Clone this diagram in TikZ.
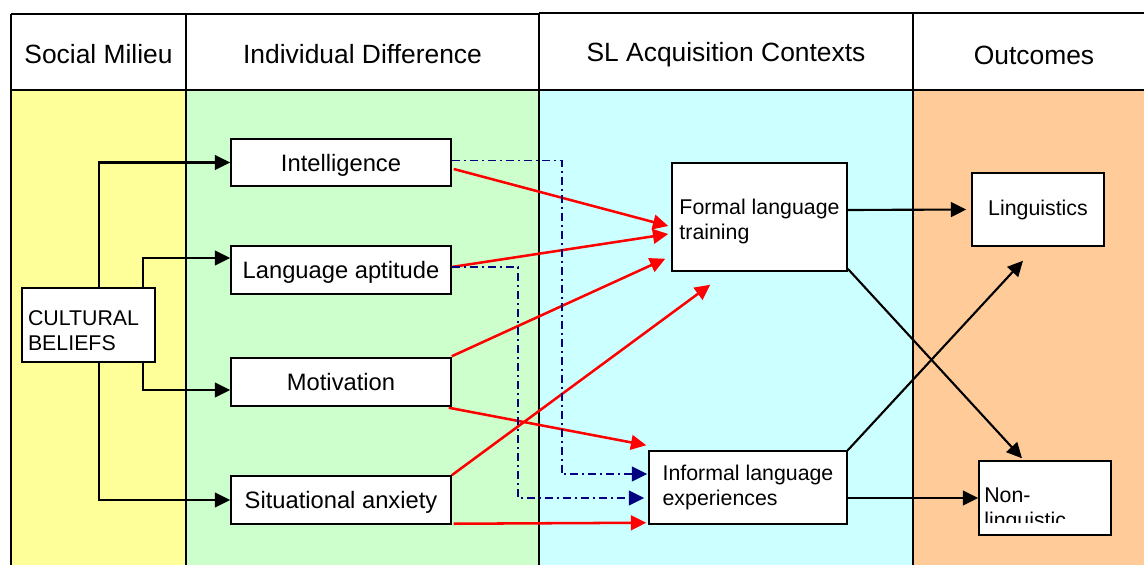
\documentclass[tikz,border=0pt]{standalone}
\usepackage{fontspec}
\setmainfont{Liberation Sans}
\usetikzlibrary{arrows.meta,calc}

\definecolor{milieu}{HTML}{FFFF99}
\definecolor{indiv}{HTML}{CCFFCC}
\definecolor{context}{HTML}{CCFFFF}
\definecolor{outcome}{HTML}{FFCC99}
\definecolor{flowred}{HTML}{FF0000}
\definecolor{flownavy}{HTML}{000080}

\tikzset{
  rule/.style={draw=black, line width=1.2pt},
  headtext/.style={font=\fontsize{19.8pt}{24pt}\selectfont},
  bigbox/.style={draw=black, fill=white, line width=1.1pt, inner sep=0pt,
    text height=12.75pt, text depth=0pt,
    font=\fontsize{17.8pt}{21pt}\selectfont},
  smallbox/.style={draw=black, fill=white, line width=1.1pt, inner sep=0pt,
    font=\fontsize{16pt}{18.75pt}\selectfont},
  tip/.style={-{Triangle[length=11.5pt,width=11pt]}},
  blackflow/.style={tip, draw=black, line width=1.6pt},
  redflow/.style={tip, draw=flowred, line width=1.9pt},
  navyflow/.style={tip, draw=flownavy, line width=1.2pt,
    dash pattern=on 6pt off 3pt on 1.5pt off 3pt},
}

\begin{document}
\begin{tikzpicture}[x=0.75pt,y=-0.75pt]
\useasboundingbox (0,0) rectangle (1144,564);
\clip (0,0) rectangle (1144,564);
\fill[white] (0,0) rectangle (1144,564);

% column bodies
\fill[milieu]  (11,90)  rectangle (186,570);
\fill[indiv]   (186,90) rectangle (539,570);
\fill[context] (539,90) rectangle (913,570);
\fill[outcome] (913,90) rectangle (1160,570);

% header row and column rules
\draw[rule] (11,14) -- (539,14);
\draw[rule] (539,13) -- (1160,13);
\draw[rule] (11,90) -- (1160,90);
\draw[rule] (11,14) -- (11,570);
\draw[rule] (186,14) -- (186,570);
\draw[rule] (539,13) -- (539,570);
\draw[rule] (913,13) -- (913,570);

\node[headtext] (h1) at (98.5,54) {Social Milieu};
\node[headtext] (h2) at (362.5,54) {Individual Difference};
\node[headtext] (h3) at (726,55) {SL Acquisition Contexts};
\node[headtext] (h4) at (1034,55) {Outcomes};

% individual difference boxes
\node[bigbox, minimum width=165pt, minimum height=35.25pt] (int) at (341,162.5) {Intelligence};
\node[bigbox, minimum width=165pt, minimum height=36pt] (apt) at (341,270) {Language aptitude};
\node[bigbox, minimum width=165pt, minimum height=36pt] (mot) at (341,382) {Motivation};
\node[bigbox, minimum width=165pt, minimum height=36pt] (anx) at (341,500) {Situational anxiety};

% social milieu
\node[smallbox, minimum width=99.75pt, minimum height=55.5pt, text width=90.75pt,
      text height=19pt, align=left, inner xsep=4.5pt] (cult) at (88.5,325) {CULTURAL\\BELIEFS};

% acquisition contexts
\node[smallbox, minimum width=131.25pt, minimum height=81pt, text height=37pt,
      align=left] (formal) at (759.5,217) {Formal language\\training};
\node[smallbox, minimum width=148.5pt, minimum height=54.75pt,
      align=left] (informal) at (748,487.5) {Informal language\\experiences};

% outcomes
\node[smallbox, minimum width=99pt, minimum height=54.75pt] (ling) at (1038,209.5) {Linguistics};
\node[smallbox, minimum width=99pt, minimum height=55.5pt] (nonling) at (1045,498) {};
\begin{scope}
  \clip (979,461) rectangle (1111,522);
  \node[anchor=north west, inner sep=0pt, align=left,
        font=\fontsize{16pt}{18.75pt}\selectfont] (nonlingtext) at (984,488) {Non-\\linguistic};
\end{scope}

% social milieu to individual differences
\draw[blackflow] ([xshift=7.875pt]cult.north) |- (int.west);
\draw[blackflow] ([xshift=40.875pt]cult.north) |- ([yshift=9pt]apt.west);
\draw[blackflow] ([xshift=40.875pt]cult.south) |- ([yshift=-6pt]mot.west);
\draw[blackflow] ([xshift=7.875pt]cult.south) |- (anx.west);

% individual differences to acquisition contexts
\draw[redflow] ($(int.east)+(2,6.5)$) -- ($(formal.west)+(-3,9)$);
\draw[redflow] ($(apt.east)+(0,-3)$) -- ($(formal.west)+(-3,17)$);
\draw[redflow] ($(mot.north east)+(0,-1)$) -- ($(formal.south west)+(-6,-13)$);
\draw[redflow] (anx.north east) -- ($(formal.south west)+(39,13)$);
\draw[redflow] ($(mot.south east)+(-3,1)$) -- ($(informal.north west)+(-2,-5)$);
\draw[redflow] ($(anx.south east)+(2,-1)$) -- ($(informal.south west)+(-2,-2)$);

\draw[navyflow] ($(int.east)+(0,-2)$) -- ++(110,0) |- ($(informal.west)+(-1,-13.5)$);
\draw[navyflow] ($(apt.east)+(0,-3)$) -- ++(66,0) |- ($(informal.west)+(-4,10.5)$);

% acquisition contexts to outcomes
\draw[blackflow] ($(formal.east)+(0,-7)$) -- ($(ling.west)+(-5,0)$);
\draw[blackflow] ($(formal.south east)+(0,-3)$) -- ($(nonling.north)+(-23,-2)$);
\draw[blackflow] (informal.north east) -- ($(ling.south)+(-15,14)$);
\draw[blackflow] ($(informal.east)+(0,10.5)$) -- (nonling.west);
\end{tikzpicture}
\end{document}
